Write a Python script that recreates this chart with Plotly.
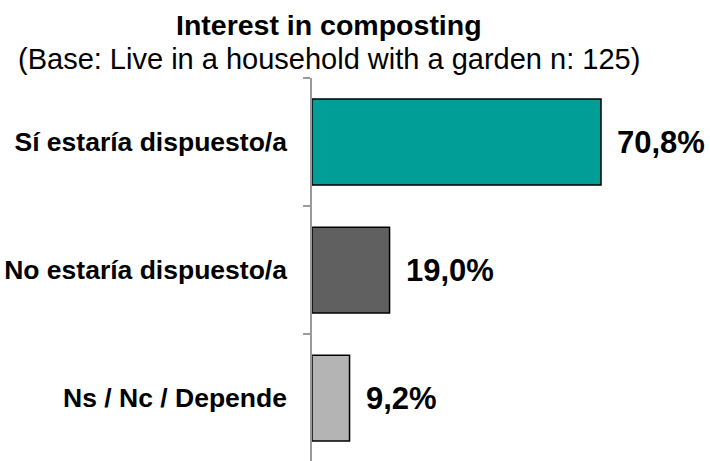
import plotly.graph_objects as go

categories = ["Sí estaría dispuesto/a", "No estaría dispuesto/a", "Ns / Nc / Depende"]
values = [70.8, 19.0, 9.2]
value_labels = ["70,8%", "19,0%", "9,2%"]
colors = ["#009E97", "#606060", "#B4B4B4"]

FONT = "Arial, Liberation Sans, sans-serif"

fig = go.Figure()
fig.add_trace(go.Bar(
    x=values, y=categories, orientation="h",
    marker=dict(color=colors, line=dict(color="#000000", width=1.5)),
    hoverinfo="skip",
))

for cat, v, lab in zip(categories, values, value_labels):
    fig.add_annotation(x=v, y=cat, xref="x", yref="y", text=f"<b>{lab}</b>",
                       showarrow=False, xanchor="left", yanchor="middle", xshift=14,
                       font=dict(family=FONT, size=31, color="#000000"))

fig.add_annotation(x=0, y=1, xref="paper", yref="paper", xshift=17, yshift=53.5,
                   text="<b>Interest in composting</b>", showarrow=False,
                   xanchor="center", yanchor="middle",
                   font=dict(family=FONT, size=28.5, color="#000000"))
fig.add_annotation(x=0, y=1, xref="paper", yref="paper", xshift=17, yshift=19,
                   text="(Base: Live in a household with a garden n: 125)", showarrow=False,
                   xanchor="center", yanchor="middle",
                   font=dict(family=FONT, size=29, color="#000000"))

fig.update_layout(
    width=710, height=461,
    margin=dict(l=312, r=0, t=78, b=0, autoexpand=False),
    paper_bgcolor="white", plot_bgcolor="white",
    bargap=0.33, showlegend=False,
    xaxis=dict(range=[0, 97.5], visible=False, showgrid=False, zeroline=False,
               automargin=False),
    yaxis=dict(type="category", categoryorder="array", categoryarray=categories,
               range=[2.492, -0.5], showline=True, linecolor="#9A9A9A", linewidth=1.5,
               ticks="outside", ticklen=7, tickcolor="#9A9A9A", tickwidth=1.5,
               tickson="boundaries", showgrid=False, zeroline=False,
               ticklabelstandoff=18, automargin=False,
               tickfont=dict(family=FONT, size=26.5, color="#000000", weight="bold")),
)

fig.write_html("out.html", config={"displayModeBar": False},
               post_script="document.body.style.margin='0';")
